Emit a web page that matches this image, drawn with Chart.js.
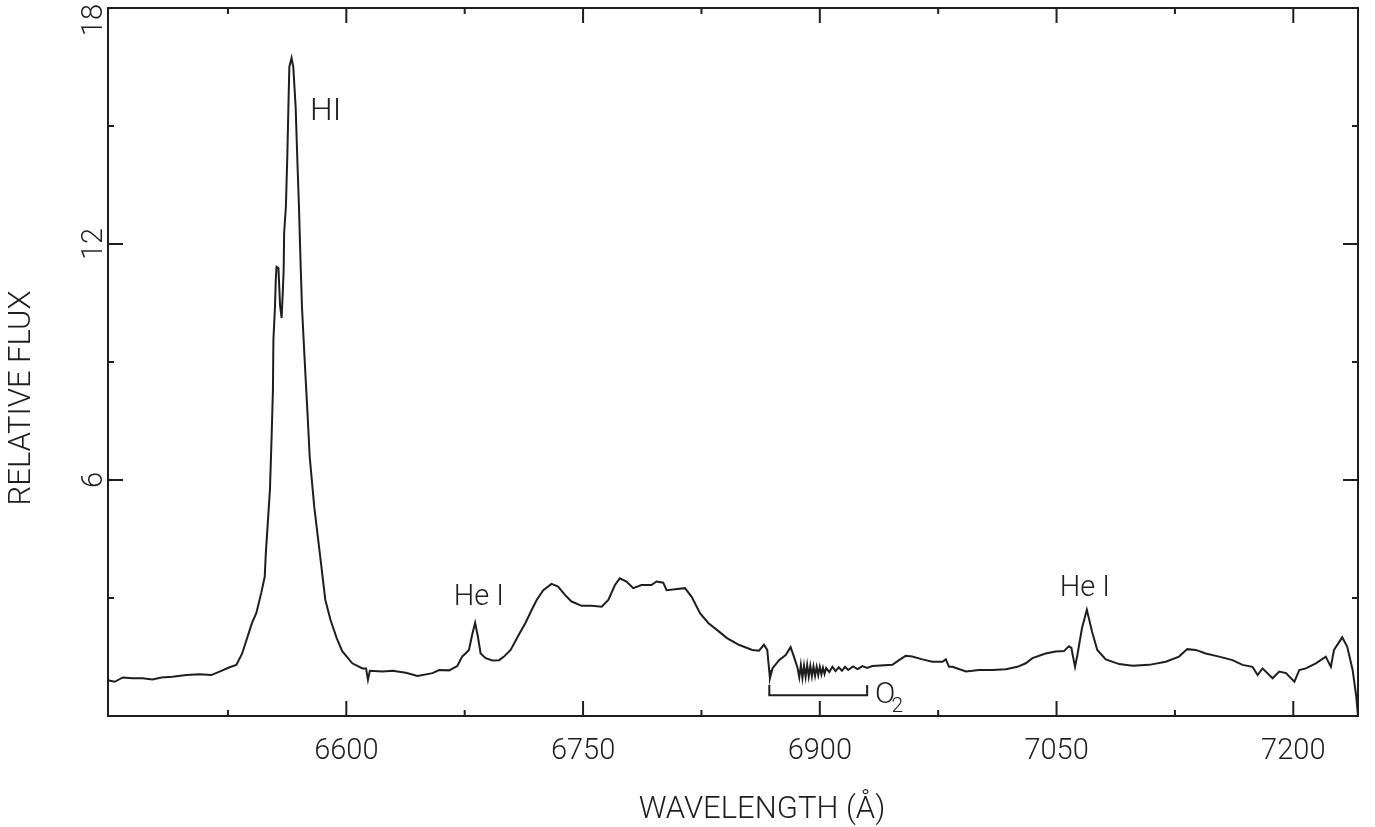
<!DOCTYPE html>
<html lang="en">
<head>
<meta charset="utf-8">
<title>Relative flux vs wavelength</title>
<script src="https://cdn.jsdelivr.net/npm/chart.js@4.4.1/dist/chart.umd.min.js"></script>
<style>
  html, body { margin: 0; padding: 0; background: #fff; }
  #wrap { width: 1375px; height: 827px; }
</style>
</head>
<body>
<div id="wrap"><canvas id="spec" width="1375" height="827"></canvas></div>
<script>
/* Emission-line spectrum: H I, He I lines and the telluric O2 band */

// wavelength (Å) and relative flux
const WAVELENGTH = [
  6449.0, 6453.2, 6458.4, 6464.6, 6470.9, 6477.2, 6482.8, 6489.9, 6498.6, 6507.0,
  6514.4, 6519.7, 6526.0, 6530.3, 6534.0, 6540.2, 6543.0, 6546.1, 6548.3, 6549.0,
  6551.6, 6552.6, 6553.5, 6553.8, 6554.8, 6555.3, 6555.8, 6557.0, 6558.0, 6559.0,
  6559.8, 6560.3, 6560.6, 6561.7, 6562.6, 6563.4, 6563.9, 6565.3, 6566.4, 6567.9,
  6568.9, 6570.0, 6570.9, 6571.9, 6573.5, 6575.2, 6576.8, 6579.7, 6583.2, 6586.7,
  6590.0, 6593.9, 6597.4, 6603.8, 6610.2, 6612.5, 6613.7, 6614.9, 6622.9, 6629.3,
  6637.7, 6645.1, 6654.6, 6658.8, 6665.1, 6670.3, 6673.4, 6675.5, 6677.7, 6679.7,
  6681.6, 6683.3, 6685.1, 6688.3, 6692.5, 6696.8, 6699.9, 6704.1, 6709.2, 6713.4,
  6717.5, 6720.6, 6724.8, 6730.0, 6734.2, 6738.5, 6742.7, 6749.2, 6755.5, 6761.8,
  6766.0, 6770.2, 6773.3, 6777.5, 6781.8, 6787.0, 6793.3, 6796.5, 6800.8, 6802.9,
  6808.2, 6814.6, 6818.8, 6824.2, 6829.5, 6834.8, 6841.2, 6848.7, 6857.2, 6861.5,
  6864.6, 6866.7, 6867.9, 6868.4, 6870.0, 6874.2, 6878.4, 6881.5, 6883.6, 6885.9,
  6887, 6888, 6889, 6890, 6891, 6892, 6893, 6894, 6895, 6896,
  6897, 6898, 6899, 6900, 6901, 6902, 6903, 6904, 6906, 6908,
  6910, 6912, 6914, 6916, 6918, 6921, 6924, 6927, 6930, 6933.3,
  6946.0, 6950.2, 6954.4, 6958.6, 6965.0, 6971.3, 6977.7, 6979.8, 6981.9, 6984.0,
  6992.6, 7001.0, 7009.4, 7017.9, 7025.2, 7030.5, 7034.7, 7043.1, 7049.4, 7054.7,
  7057.8, 7059.4, 7061.7, 7063.2, 7066.1, 7069.2, 7072.5, 7075.8, 7081.2, 7089.7,
  7098.1, 7108.7, 7119.2, 7127.6, 7132.8, 7138.2, 7144.5, 7153.0, 7161.5, 7167.8,
  7174.1, 7177.4, 7180.5, 7186.9, 7191.1, 7195.4, 7200.7, 7203.8, 7208.0, 7214.3,
  7220.6, 7223.8, 7225.8, 7231.0, 7234.2, 7237.6, 7239.9, 7241.0
];
const FLUX = [
  0.91, 0.87, 0.98, 0.96, 0.96, 0.93, 0.98, 1.00, 1.04, 1.06,
  1.04, 1.13, 1.24, 1.30, 1.59, 2.36, 2.62, 3.13, 3.54, 4.14,
  5.75, 7.02, 8.29, 9.56, 10.40, 11.09, 11.42, 11.39, 10.45, 10.12,
  10.83, 11.34, 12.28, 12.94, 14.21, 15.66, 16.50, 16.73, 16.50, 15.48,
  14.21, 12.94, 11.67, 10.40, 9.13, 7.86, 6.59, 5.31, 4.14, 2.95,
  2.44, 1.98, 1.65, 1.34, 1.21, 1.21, 0.92, 1.15, 1.13, 1.15,
  1.10, 1.02, 1.09, 1.17, 1.16, 1.27, 1.51, 1.59, 1.68, 2.06,
  2.37, 2.03, 1.59, 1.47, 1.41, 1.42, 1.51, 1.68, 2.06, 2.36,
  2.70, 2.95, 3.20, 3.36, 3.29, 3.08, 2.91, 2.80, 2.80, 2.78,
  2.95, 3.33, 3.50, 3.42, 3.25, 3.33, 3.33, 3.42, 3.39, 3.20,
  3.22, 3.25, 3.03, 2.61, 2.36, 2.19, 1.98, 1.81, 1.68, 1.66,
  1.81, 1.68, 1.17, 0.96, 1.21, 1.42, 1.55, 1.75, 1.51, 1.22,
  0.98, 1.30, 0.97, 1.28, 0.99, 1.30, 1.00, 1.27, 1.01, 1.26,
  1.02, 1.25, 1.04, 1.25, 1.06, 1.23, 1.07, 1.22, 1.12, 1.25,
  1.14, 1.24, 1.15, 1.25, 1.17, 1.26, 1.19, 1.27, 1.22, 1.27,
  1.30, 1.42, 1.53, 1.51, 1.44, 1.38, 1.38, 1.44, 1.25, 1.25,
  1.13, 1.17, 1.17, 1.19, 1.25, 1.34, 1.47, 1.59, 1.64, 1.65,
  1.77, 1.73, 1.25, 1.55, 2.23, 2.70, 2.14, 1.68, 1.44, 1.32,
  1.28, 1.30, 1.38, 1.51, 1.70, 1.68, 1.59, 1.51, 1.42, 1.30,
  1.25, 1.04, 1.21, 0.96, 1.13, 1.09, 0.87, 1.17, 1.21, 1.34,
  1.51, 1.25, 1.68, 2.00, 1.76, 1.17, 0.49, 0.00
];

const X_TICKS       = [6600, 6750, 6900, 7050, 7200];
const X_TICK_LABELS = ['6600', '6750', '6900', '7050', '7200'];
const X_MINOR       = [6525, 6675, 6825, 6975, 7125];
const Y_TICKS       = [6, 12, 18];
const Y_TICK_LABELS = ['6', '12', '18'];
const Y_MINOR       = [3, 9, 15];

// bracket marking the O2 absorption band
const O2_BAND_X = [6868, 6868, 6930, 6930];
const O2_BAND_Y = [0.79, 0.53, 0.53, 0.79];

// line identifications (text anchored at left/baseline)
const LINE_NAMES  = ['HI', 'He I', 'He I'];
const LINE_NAME_X = [6577, 6668, 7052];
const LINE_NAME_Y = [15.15, 2.82, 3.05];

(function () {
  'use strict';

  const INK  = '#1e1e1e';
  const FACE = 'Roboto, "Liberation Sans", sans-serif';
  const font = (size) => `300 ${size}px ${FACE}`;

  // box with inward ticks on all four sides, rotated y labels, titles, notes
  const frame = {
    id: 'frame',
    afterDatasetsDraw(chart) {
      const { ctx, chartArea: a, scales: { x, y } } = chart;
      ctx.save();
      ctx.strokeStyle = INK;
      ctx.fillStyle = INK;
      ctx.lineWidth = 2;
      ctx.strokeRect(a.left, a.top, a.right - a.left, a.bottom - a.top);

      const seg = (x1, y1, x2, y2) => { ctx.beginPath(); ctx.moveTo(x1, y1); ctx.lineTo(x2, y2); ctx.stroke(); };
      const xTick = (v, len) => {
        const p = x.getPixelForValue(v);
        seg(p, a.bottom, p, a.bottom - len);
        seg(p, a.top, p, a.top + len);
      };
      const yTick = (v, len) => {
        const p = y.getPixelForValue(v);
        seg(a.left, p, a.left + len, p);
        seg(a.right, p, a.right - len, p);
      };
      X_TICKS.forEach(v => xTick(v, 15));
      X_MINOR.forEach(v => xTick(v, 6));
      Y_TICKS.filter(v => v < y.max).forEach(v => yTick(v, 15));
      Y_MINOR.forEach(v => yTick(v, 6));

      // y tick labels, reading bottom to top
      ctx.font = font(29);
      ctx.textAlign = 'center';
      ctx.textBaseline = 'middle';
      Y_TICKS.forEach((v, i) => {
        const txt = Y_TICK_LABELS[i];
        const half = ctx.measureText(txt).width / 2;
        const cy = Math.max(y.getPixelForValue(v), half + 4);
        ctx.save();
        ctx.translate(a.left - 13, cy);
        ctx.rotate(-Math.PI / 2);
        ctx.fillText(txt, 0, 0);
        ctx.restore();
      });

      // axis titles
      ctx.font = font(31);
      ctx.fillText('WAVELENGTH (Å)', 762, 810);
      ctx.save();
      ctx.translate(22, 398);
      ctx.rotate(-Math.PI / 2);
      ctx.fillText('RELATIVE FLUX', 0, 0);
      ctx.restore();

      // line names
      ctx.textAlign = 'left';
      ctx.textBaseline = 'alphabetic';
      LINE_NAMES.forEach((txt, i) => {
        ctx.font = font(i === 0 ? 32 : 29);
        ctx.fillText(txt, x.getPixelForValue(LINE_NAME_X[i]), y.getPixelForValue(LINE_NAME_Y[i]));
      });
      ctx.font = font(30);
      ctx.fillText('O', x.getPixelForValue(6935), y.getPixelForValue(0.32));
      ctx.font = font(21);
      ctx.fillText('2', x.getPixelForValue(6945.5), y.getPixelForValue(0.11));
      ctx.restore();
    }
  };

  const spectrum = WAVELENGTH.map((w, i) => ({ x: w, y: FLUX[i] }));
  const bracket  = O2_BAND_X.map((w, i) => ({ x: w, y: O2_BAND_Y[i] }));

  new Chart(document.getElementById('spec'), {
    type: 'line',
    data: {
      datasets: [
        { label: 'Relative flux', data: spectrum, borderColor: INK, borderWidth: 2,
          pointRadius: 0, tension: 0, fill: false },
        { label: 'O2 band', data: bracket, borderColor: INK, borderWidth: 2,
          pointRadius: 0, tension: 0, fill: false },
      ],
    },
    options: {
      responsive: false,
      devicePixelRatio: 1,
      animation: false,
      layout: { padding: { left: 108, right: 17, top: 8, bottom: 0 } },
      plugins: { legend: { display: false }, tooltip: { enabled: false } },
      scales: {
        x: {
          type: 'linear', position: 'bottom', min: 6449, max: 7241,
          grid: { display: false }, border: { display: false },
          afterBuildTicks: (s) => { s.ticks = X_TICKS.map(v => ({ value: v })); },
          afterFit: (s) => { s.height = 111; },
          ticks: {
            autoSkip: false, maxRotation: 0, padding: 10, color: INK,
            font: { family: FACE, size: 29, weight: '300' },
            callback: (v) => X_TICK_LABELS[X_TICKS.indexOf(v)],
          },
        },
        y: { display: false, min: 0, max: 18 },
      },
    },
    plugins: [frame],
  });
})();
</script>
</body>
</html>
